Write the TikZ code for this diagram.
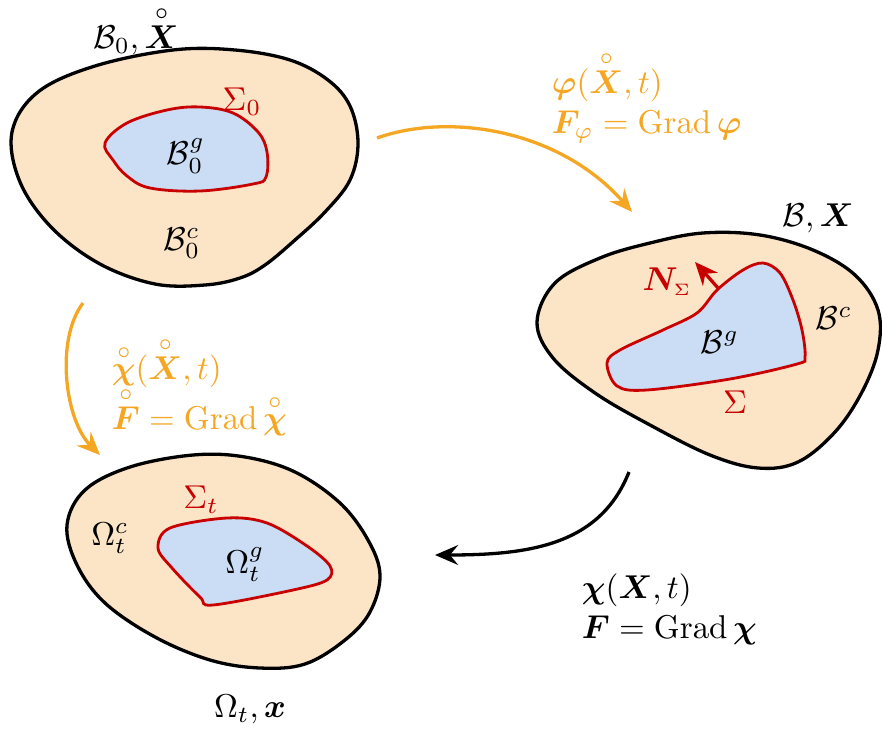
\documentclass[tikz,border=0pt]{standalone}
\usepackage{amsmath,amssymb,bm}
\usetikzlibrary{arrows.meta}
\definecolor{mapor}{RGB}{245,166,35}
\definecolor{bodyfill}{RGB}{252,228,198}
\definecolor{gfill}{RGB}{202,221,245}
\definecolor{ired}{RGB}{200,0,0}
\newcommand{\rX}{\overset{\circ}{\bm{X}}}
\newcommand{\rchi}{\overset{\circ}{\bm{\chi}}}
\newcommand{\rF}{\overset{\circ}{\bm{F}}}
\tikzset{
  outer/.style={draw=black,line width=1pt,fill=bodyfill},
  inner/.style={draw=ired,line width=0.85pt,fill=gfill},
  maparrow/.style={line width=1pt,-{Stealth[length=7pt,width=6pt,inset=2.5pt]}},
  lbl/.style={inner sep=1pt},
}
\begin{document}
\begin{tikzpicture}[x=0.303pt,y=-0.303pt]
\useasboundingbox (0,0) rectangle (882,731);
% ---- reference body B0
\draw[outer] plot[smooth cycle,tension=0.6] coordinates{
 (173,50) (95,66) (38,92) (12,132) (20,182) (52,228) (100,264) (155,284)
 (205,285) (240,278) (265,265) (295,240) (325,212) (350,180) (358,143)
 (350,106) (328,80) (290,60) (235,50)};
\draw[inner] plot[smooth cycle,tension=0.6] coordinates{
 (105,143) (127,123) (167,110) (200,107) (233,113) (258,132) (267,152)
 (266,177) (253,184) (200,191) (150,188) (127,176) (113,160)};
\node[lbl] (B0lab) at (136,30) {$\mathcal{B}_0,\rX$};
\node[lbl,text=ired] (S0) at (242,102) {$\Sigma_0$};
\node[lbl] (B0g) at (186,156) {$\mathcal{B}_0^g$};
\node[lbl] (B0c) at (182,243) {$\mathcal{B}_0^c$};
% ---- intermediate body B
\draw[outer] plot[smooth cycle,tension=0.6] coordinates{
 (537,322) (555,283) (600,258) (650,243) (703,233) (760,235) (813,250)
 (855,275) (878,310) (878,350) (862,392) (835,432) (798,462) (758,468)
 (710,455) (650,425) (595,393) (553,358)};
\draw[inner] plot[smooth cycle,tension=0.55] coordinates{
 (607,363) (620,350) (663,330) (697,313) (717,290) (743,270) (763,263)
 (780,273) (793,300) (802,330) (805,357) (797,364) (730,379) (647,390)
 (617,386)};
\coordinate (Nbase) at (718,288);
\coordinate (Ntip) at (695,262);
\draw[ired,line width=1pt,-{Stealth[length=7pt,width=6pt]}] (Nbase) -- (Ntip);
\node[lbl] (Blab) at (818,218) {$\mathcal{B},\bm{X}$};
\node[lbl,text=ired] (Nlab) at (667,282) {$\bm{N}_{\scriptscriptstyle\Sigma}$};
\node[lbl,text=ired] (Slab) at (735,402) {$\Sigma$};
\node[lbl] (Bg) at (720,342) {$\mathcal{B}^g$};
\node[lbl] (Bc) at (834,318) {$\mathcal{B}^c$};
% ---- current body Omega_t
\draw[outer] plot[smooth cycle,tension=0.6] coordinates{
 (67,525) (85,490) (130,467) (193,455) (245,457) (295,472) (340,503)
 (368,540) (380,575) (370,612) (345,640) (305,664) (260,668) (210,660)
 (155,637) (105,603) (77,565)};
\draw[inner] plot[smooth cycle,tension=0.55] coordinates{
 (158,548) (170,528) (227,518) (267,523) (307,546) (330,566) (327,580)
 (293,590) (213,605) (200,597) (172,568)};
\node[lbl] (Olab) at (250,709) {$\Omega_t,\bm{x}$};
\node[lbl,text=ired] (St) at (201,500) {$\Sigma_t$};
\node[lbl] (Oc) at (110,538) {$\Omega_t^c$};
\node[lbl] (Og) at (245,565) {$\Omega_t^g$};
% ---- maps
\coordinate (phiA) at (377,138);
\coordinate (phiB) at (632,212);
\draw[mapor,maparrow] (phiA) .. controls (450,112) and (560,130) .. (phiB);
\node[lbl,anchor=west,text=mapor] (phi1) at (548,76) {$\bm{\varphi}(\rX,t)$};
\node[lbl,anchor=west,text=mapor] (phi2) at (548,127) {$\bm{F}_{\varphi}=\operatorname{Grad}\bm{\varphi}$};
\coordinate (chioA) at (83,303);
\coordinate (chioB) at (100,455);
\draw[mapor,maparrow] (chioA) .. controls (55,340) and (65,420) .. (chioB);
\node[lbl,anchor=west,text=mapor] (chio1) at (108,362) {$\rchi(\rX,t)$};
\node[lbl,anchor=west,text=mapor] (chio2) at (108,411) {$\rF=\operatorname{Grad}\rchi$};
\coordinate (chiA) at (629,472);
\coordinate (chiB) at (435,555);
\draw[black,maparrow] (chiA) .. controls (600,545) and (530,555) .. (chiB);
\node[lbl,anchor=west] (chi1) at (578,590) {$\bm{\chi}(\bm{X},t)$};
\node[lbl,anchor=west] (chi2) at (578,630) {$\bm{F}=\operatorname{Grad}\bm{\chi}$};
\end{tikzpicture}
\end{document}
